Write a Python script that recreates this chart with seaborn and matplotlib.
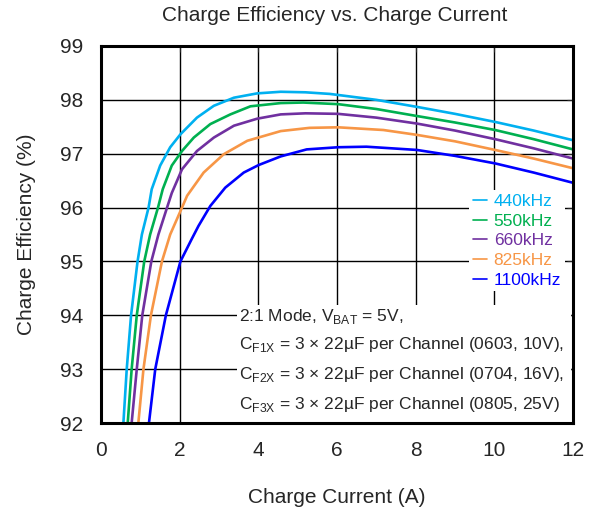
import matplotlib
matplotlib.use("Agg")
import matplotlib.pyplot as plt
import seaborn as sns
import pandas as pd
from matplotlib.patches import Rectangle

# curve data (A, %)
x_440 = [0.57, 0.655, 0.765, 0.93, 1.04, 1.21, 1.29, 1.505, 1.76, 2.02, 2.44, 2.87, 3.38, 3.97, 4.57, 5.2, 5.82, 7.0, 8.03, 9.0, 10.02, 11.0, 12.0]
y_440 = [92, 93, 94, 95, 95.5, 96.0, 96.34, 96.78, 97.12, 97.36, 97.67, 97.89, 98.04, 98.12, 98.15, 98.14, 98.11, 98.0, 97.87, 97.74, 97.59, 97.43, 97.25]
x_550 = [0.68, 0.78, 0.91, 1.10, 1.25, 1.45, 1.57, 1.80, 2.06, 2.36, 2.78, 3.29, 3.80, 4.57, 5.14, 6.03, 7.0, 8.03, 9.0, 10.02, 11.0, 12.0]
y_550 = [92, 93, 94, 95, 95.5, 96.0, 96.34, 96.78, 97.05, 97.30, 97.55, 97.73, 97.88, 97.94, 97.95, 97.92, 97.83, 97.70, 97.58, 97.44, 97.27, 97.08]
x_660 = [0.78, 0.91, 1.05, 1.28, 1.46, 1.68, 1.80, 2.06, 2.44, 2.87, 3.38, 3.97, 4.57, 5.2, 6.03, 7.0, 8.03, 9.0, 10.02, 11.0, 12.0]
y_660 = [92, 93, 94, 95, 95.5, 96.0, 96.27, 96.71, 97.05, 97.30, 97.52, 97.65, 97.73, 97.75, 97.74, 97.67, 97.56, 97.43, 97.27, 97.10, 96.91]
x_825 = [0.95, 1.08, 1.27, 1.55, 1.76, 2.06, 2.19, 2.61, 3.12, 3.72, 4.57, 5.3, 6.03, 7.18, 8.03, 9.0, 10.02, 11.0, 12.0]
y_825 = [92, 93, 94, 95, 95.5, 96.0, 96.22, 96.65, 96.99, 97.24, 97.42, 97.48, 97.49, 97.44, 97.35, 97.23, 97.07, 96.91, 96.73]
x_1100 = [1.22, 1.38, 1.65, 2.02, 2.31, 2.48, 2.78, 3.16, 3.63, 4.01, 4.57, 5.23, 6.03, 6.75, 8.03, 9.0, 10.02, 11.0, 12.0]
y_1100 = [92, 93, 94, 95, 95.42, 95.66, 96.03, 96.37, 96.65, 96.79, 96.95, 97.08, 97.12, 97.13, 97.07, 96.96, 96.82, 96.65, 96.46]

labels = ["440kHz", "550kHz", "660kHz", "825kHz", "1100kHz"]
colors = ["#00B0F0", "#00B050", "#7030A0", "#F79646", "#0000FF"]

xs = [x_440, x_550, x_660, x_825, x_1100]
ys = [y_440, y_550, y_660, y_825, y_1100]
df = pd.concat([pd.DataFrame({"I": x, "eff": y, "freq": lab}) for x, y, lab in zip(xs, ys, labels)])

sns.set_style("white")
plt.rcParams['font.family'] = ['Liberation Sans', 'DejaVu Sans']
plt.rcParams['mathtext.fontset'] = 'custom'
plt.rcParams['mathtext.rm'] = 'Liberation Sans'

fig = plt.figure(figsize=(5.95, 5.11), dpi=100)
ax = fig.add_axes([0.1697, 0.1722, 0.7933, 0.7378])

sns.lineplot(data=df, x="I", y="eff", hue="freq", hue_order=labels, palette=colors,
             lw=1.9, sort=False, ax=ax, zorder=3)

ax.set_xlim(0, 12)
ax.set_ylim(92, 99)
ax.set_xticks(range(0, 13, 2))
ax.set_yticks(range(92, 100))
ax.grid(True, color="black", lw=1.0)
ax.set_axisbelow(True)
ax.tick_params(direction="in", labelsize=15, length=4, top=True, right=True, pad=13)
for s in ax.spines.values():
    s.set_linewidth(2.2)
    s.set_color("black")
    s.set_zorder(5)

ax.set_xlabel("Charge Current (A)", fontsize=15, labelpad=20)
ax.set_ylabel("Charge Efficiency (%)", fontsize=15, labelpad=17)
fig.text(0.563, 0.969, "Charge Efficiency vs. Charge Current", ha="center", va="center", fontsize=15)

# white box behind the condition notes
ax.add_patch(Rectangle((3.45, 92), 8.5, 2.2, facecolor="white", edgecolor="none", zorder=1))
notes = [r"2:1 Mode, V$_{\mathrm{BAT}}$ = 5V,",
         r"C$_{\mathrm{F1X}}$ = 3 × 22µF per Channel (0603, 10V),",
         r"C$_{\mathrm{F2X}}$ = 3 × 22µF per Channel (0704, 16V),",
         r"C$_{\mathrm{F3X}}$ = 3 × 22µF per Channel (0805, 25V)"]
note_y = [93.98, 93.45, 92.9, 92.35]
for t, yy in zip(notes, note_y):
    ax.text(3.5, yy, t, fontsize=12.5, va="center", ha="left", zorder=4)

leg = ax.legend(loc="upper left", bbox_to_anchor=(0.762, 0.64), fontsize=12.5,
                handlelength=0.8, handletextpad=0.4, labelspacing=0.26,
                frameon=True, facecolor="white", edgecolor="none", framealpha=1,
                fancybox=False, borderpad=0.2)
for h in leg.get_lines():
    h.set_linewidth(1.2)
for t, c in zip(leg.get_texts(), colors):
    t.set_color(c)

fig.savefig("out.png", dpi=100)
